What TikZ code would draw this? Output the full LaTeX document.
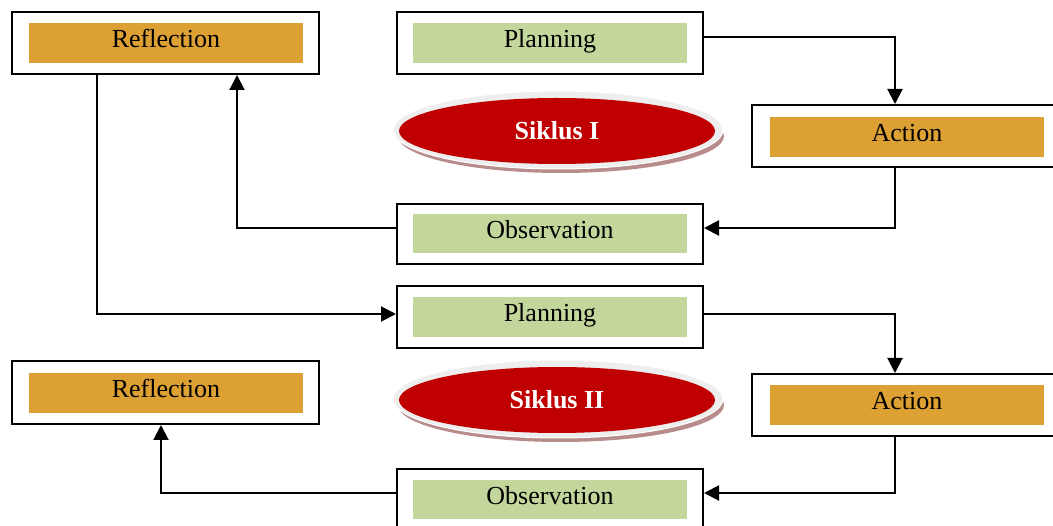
\documentclass[tikz,border=0pt]{standalone}
\usepackage{fontspec}
\setmainfont{Liberation Serif}
\usetikzlibrary{arrows.meta,shapes.geometric,calc}
\definecolor{orangefill}{RGB}{221,160,50}
\definecolor{greenfill}{RGB}{195,214,155}
\definecolor{siklusred}{RGB}{192,0,0}
\definecolor{rimgray}{RGB}{238,238,238}
\definecolor{shadowrose}{RGB}{185,140,140}
\begin{document}
\begin{tikzpicture}[x=1pt,y=-1pt,
  outerbox/.style={draw=black, line width=2pt, fill=white, minimum width=306pt, minimum height=62pt, inner sep=0pt},
  innerbox/.style={minimum width=274pt, minimum height=40pt, inner sep=0pt, text height=17pt, text depth=7pt, font=\fontsize{26}{28}\selectfont},
  orangebox/.style={innerbox, fill=orangefill},
  greenbox/.style={innerbox, fill=greenfill},
  arr/.style={line width=2pt, -{Triangle[length=15pt,width=15pt]}},
  rim/.style={ellipse, fill=rimgray, draw=white, line width=1pt, minimum width=330pt, minimum height=78pt, inner sep=0pt},
  shadowell/.style={ellipse, fill=shadowrose, minimum width=326pt, minimum height=74pt, inner sep=0pt},
  redell/.style={ellipse, fill=siklusred, minimum width=316pt, minimum height=66pt, inner sep=0pt, text height=20pt, text depth=2pt, text=white, font=\bfseries\fontsize{26}{28}\selectfont}
]
\useasboundingbox (0,0) rectangle (1053,526);
\clip (0,0) rectangle (1053,526);

% Cycle I
\node[outerbox, minimum width=307pt] (r1) at (165.5,43) {};
\node[orangebox] (r1i) at (166,43) {Reflection};
\node[outerbox] (p1) at (550,43) {};
\node[greenbox] (p1i) at (550,43) {Planning};
\node[outerbox] (a1) at (905,136) {};
\node[orangebox] (a1i) at (907,137) {Action};
\node[outerbox, minimum height=60pt] (o1) at (550,234) {};
\node[greenbox, minimum height=39pt] (o1i) at (550,233.5) {Observation};

\node[shadowell] (s1s) at (561,136) {};
\node[rim] (s1r) at (558,130) {};
\node[redell] (s1) at (557,131) {Siklus I};

% Cycle II
\node[outerbox] (p2) at (550,317) {};
\node[greenbox] (p2i) at (550,317) {Planning};
\node[outerbox, minimum width=307pt, minimum height=63pt] (r2) at (165.5,392.5) {};
\node[orangebox] (r2i) at (166,393) {Reflection};
\node[outerbox] (a2) at (905,405) {};
\node[orangebox] (a2i) at (907,405) {Action};
\node[outerbox] (o2) at (550,500) {};
\node[greenbox, minimum height=39pt] (o2i) at (550,499.5) {Observation};

\node[shadowell] (s2s) at (561,405) {};
\node[rim] (s2r) at (558,399) {};
\node[redell] (s2) at (557,400) {Siklus II};

% Connectors cycle I
\draw[arr] ([yshift=6pt]p1.east) -| ([xshift=-10pt]a1.north);
\draw[arr] ([xshift=-10pt]a1.south) |- ([yshift=6pt]o1.east);
\draw[arr] ([yshift=6pt]o1.west) -| ([xshift=71.5pt]r1.south);
\draw[arr] ([xshift=-68.5pt]r1.south) |- ([yshift=3pt]p2.west);

% Connectors cycle II
\draw[arr] ([yshift=3pt]p2.east) -| ([xshift=-10pt]a2.north);
\draw[arr] ([xshift=-10pt]a2.south) |- ([yshift=7pt]o2.east);
\draw[arr] ([yshift=7pt]o2.west) -| ([xshift=-4.5pt]r2.south);
\end{tikzpicture}
\end{document}
